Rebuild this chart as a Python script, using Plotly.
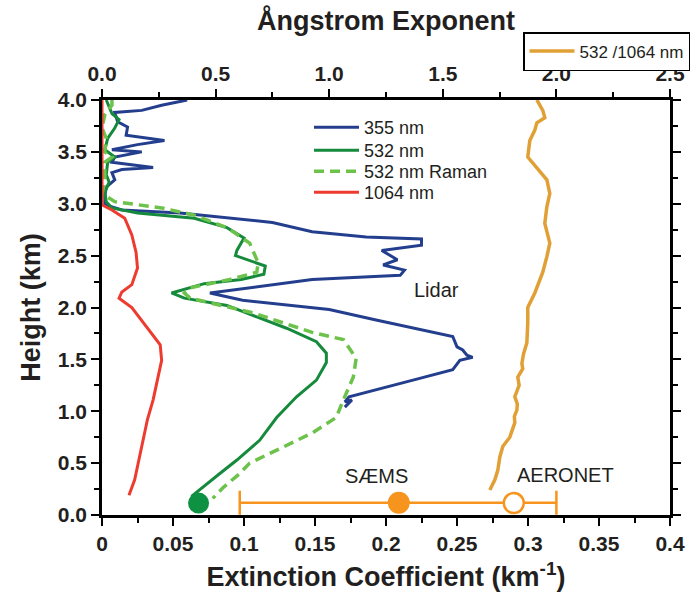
import plotly.graph_objects as go

# ---- 355 nm extinction (km^-1) vs height (km)
h_355 = [4.00, 3.95, 3.90, 3.88, 3.79, 3.74, 3.66, 3.61, 3.57, 3.54, 3.52, 3.50, 3.45, 3.40,
         3.35, 3.33, 3.30, 3.23, 3.16, 3.08, 2.99, 2.94, 2.91, 2.82, 2.73, 2.68, 2.66, 2.60,
         2.55, 2.46, 2.41, 2.36, 2.31, 2.27, 2.14, 2.07, 1.98, 1.88, 1.80, 1.72, 1.62, 1.59,
         1.54, 1.52, 1.49, 1.40, 1.30, 1.22, 1.14, 1.09, 1.11, 1.04]
ext_355 = [0.060, 0.042, 0.028, 0.009, 0.011, 0.018, 0.017, 0.044, 0.025, 0.014, 0.007, 0.028,
           0.009, 0.007, 0.036, 0.014, 0.007, 0.009, 0.003, 0.002, 0.002, 0.014, 0.055, 0.120,
           0.148, 0.186, 0.225, 0.225, 0.197, 0.208, 0.198, 0.213, 0.210, 0.148, 0.076, 0.099,
           0.160, 0.193, 0.219, 0.247, 0.250, 0.254, 0.257, 0.261, 0.252, 0.247, 0.219, 0.196,
           0.174, 0.171, 0.176, 0.171]

# ---- 532 nm
h_532 = [4.00, 3.87, 3.81, 3.73, 3.63, 3.52, 3.45, 3.40, 3.28, 3.21, 3.11, 3.02, 2.96, 2.91,
         2.86, 2.77, 2.67, 2.55, 2.50, 2.45, 2.40, 2.32, 2.27, 2.23, 2.14, 2.09, 2.02, 1.91,
         1.80, 1.67, 1.56, 1.47, 1.30, 1.14, 0.94, 0.72, 0.53, 0.40, 0.27, 0.18]
ext_532 = [0.003, 0.007, 0.012, 0.009, 0.004, 0.002, 0.009, 0.004, 0.003, 0.005, 0.002, 0.003,
           0.007, 0.025, 0.065, 0.088, 0.100, 0.095, 0.094, 0.105, 0.115, 0.114, 0.098, 0.072,
           0.049, 0.058, 0.088, 0.109, 0.130, 0.151, 0.158, 0.158, 0.151, 0.137, 0.123, 0.111,
           0.095, 0.083, 0.071, 0.063]

# ---- 532 nm Raman
h_raman = [4.00, 3.95, 3.86, 3.73, 3.63, 3.50, 3.45, 3.40, 3.21, 3.10, 3.02, 2.96, 2.89, 2.77,
           2.62, 2.43, 2.34, 2.27, 2.19, 2.14, 2.09, 2.04, 1.95, 1.76, 1.69, 1.51, 1.33, 1.11,
           0.94, 0.79, 0.65, 0.50, 0.40, 0.26, 0.16]
ext_raman = [0.007, 0.007, 0.002, 0.000, 0.003, 0.002, 0.007, 0.002, 0.002, 0.000, 0.009, 0.042,
             0.065, 0.088, 0.104, 0.110, 0.109, 0.090, 0.062, 0.058, 0.062, 0.078, 0.106, 0.148,
             0.170, 0.179, 0.177, 0.170, 0.165, 0.148, 0.127, 0.104, 0.097, 0.085, 0.078]

# ---- 1064 nm
h_1064 = [4.00, 2.99, 2.94, 2.86, 2.70, 2.53, 2.38, 2.22, 2.15, 2.09, 2.00, 1.78, 1.64, 1.49,
          1.30, 1.11, 0.92, 0.72, 0.53, 0.34, 0.19]
ext_1064 = [0.000, 0.000, 0.007, 0.016, 0.021, 0.024, 0.025, 0.021, 0.014, 0.012, 0.021, 0.033,
            0.041, 0.042, 0.039, 0.036, 0.032, 0.029, 0.026, 0.023, 0.019]

# ---- Angstrom exponent 532/1064 nm
h_ang = [4.00, 3.90, 3.83, 3.78, 3.71, 3.61, 3.45, 3.35, 3.23, 3.10, 2.97, 2.81, 2.62, 2.49,
         2.34, 2.14, 2.00, 1.85, 1.66, 1.55, 1.46, 1.41, 1.33, 1.25, 1.20, 1.14, 1.07, 1.01,
         0.95, 0.89, 0.75, 0.66, 0.56, 0.43, 0.34, 0.24]
ang = [1.914, 1.940, 1.949, 1.914, 1.905, 1.883, 1.874, 1.914, 1.958, 1.971, 1.958, 1.949,
       1.971, 1.958, 1.940, 1.905, 1.874, 1.874, 1.870, 1.855, 1.848, 1.852, 1.830, 1.836,
       1.826, 1.817, 1.828, 1.826, 1.815, 1.817, 1.795, 1.764, 1.751, 1.742, 1.729, 1.707]

# ---- surface points
green_pt_ext, green_pt_h = [0.068], [0.115]
saems_ext, saems_h = [0.209], [0.118]
saems_err_plus, saems_err_minus = [0.111], [0.112]
aeronet_ext, aeronet_h = [0.290], [0.115]

BLUE = '#243E8E'
GREEN = '#168A3C'
LGREEN = '#6CC24A'
RED = '#EE3B2F'
GOLD = '#E0A035'
ORANGE = '#F7941D'
TXT = '#231F20'
FONT = 'Liberation Sans'

fig = go.Figure()
fig.add_trace(go.Scatter(x=ext_355, y=h_355, mode='lines', name='355 nm', legend='legend',
                         line=dict(color=BLUE, width=3)))
fig.add_trace(go.Scatter(x=ext_532, y=h_532, mode='lines', name='532 nm', legend='legend3',
                         line=dict(color=GREEN, width=3)))
fig.add_trace(go.Scatter(x=ext_raman, y=h_raman, mode='lines', name='532 nm Raman',
                         legend='legend4',
                         line=dict(color=LGREEN, width=3.5, dash='10px,6px')))
fig.add_trace(go.Scatter(x=ext_1064, y=h_1064, mode='lines', name='1064 nm', legend='legend5',
                         line=dict(color=RED, width=3)))
fig.add_trace(go.Scatter(x=ang, y=h_ang, mode='lines', name='532 /1064 nm', xaxis='x2',
                         legend='legend2', line=dict(color=GOLD, width=3.5)))
fig.add_trace(go.Scatter(x=green_pt_ext, y=green_pt_h, mode='markers', showlegend=False,
                         marker=dict(size=21, color='#0E9142'), cliponaxis=False))
fig.add_trace(go.Scatter(x=saems_ext, y=saems_h, mode='markers', showlegend=False,
                         marker=dict(size=22, color=ORANGE), cliponaxis=False,
                         error_x=dict(type='data', array=saems_err_plus,
                                      arrayminus=saems_err_minus, color=ORANGE,
                                      thickness=2.5, width=12)))
fig.add_trace(go.Scatter(x=aeronet_ext, y=aeronet_h, mode='markers', showlegend=False,
                         marker=dict(size=20, color='white', line=dict(color=ORANGE, width=2.5)),
                         cliponaxis=False))

fig.add_annotation(x=0.218, y=2.17, text='Lidar', showarrow=False, xanchor='left',
                   font=dict(family=FONT, size=20, color=TXT))
fig.add_annotation(x=0.1695, y=0.376, text='SÆMS', showarrow=False, xanchor='left',
                   font=dict(family=FONT, size=20, color=TXT))
fig.add_annotation(x=0.2907, y=0.386, text='AERONET', showarrow=False, xanchor='left',
                   font=dict(family=FONT, size=20, color=TXT))

axis_common = dict(showline=True, linecolor='black', linewidth=2.5, ticks='outside',
                   ticklen=8, tickwidth=2, tickcolor='black', showgrid=False, zeroline=False,
                   tickfont=dict(family=FONT, size=21, color=TXT, weight='bold'))


def row_legend(center_px):
    return dict(x=(309 - 102) / 568, y=(515 - (center_px - 19)) / 415, xanchor='left',
                yanchor='top', bgcolor='rgba(0,0,0,0)', borderwidth=0, itemwidth=45,
                font=dict(family=FONT, size=18, color=TXT))


fig.update_layout(
    width=690, height=592,
    margin=dict(l=102, r=20, t=100, b=77, autoexpand=False),
    paper_bgcolor='white', plot_bgcolor='white',
    xaxis=dict(range=[0, 0.4], dtick=0.05, tick0=0,
               minor=dict(ticks='outside', ticklen=5, tickwidth=2, tickcolor='black', dtick=0.025),
               title=dict(text='Extinction Coefficient (km<sup>-1</sup>)', standoff=14,
                          font=dict(family=FONT, size=27, color=TXT, weight='bold')),
               **axis_common),
    xaxis2=dict(range=[0, 2.5], dtick=0.5, tick0=0, tickformat='.1f', overlaying='x',
                side='top', anchor='y',
                minor=dict(ticks='outside', ticklen=5, tickwidth=2, tickcolor='black', dtick=0.25),
                title=dict(text='Ångstrom Exponent', standoff=24,
                           font=dict(family=FONT, size=27, color=TXT, weight='bold')),
                **axis_common),
    yaxis=dict(range=[0, 4.0], dtick=0.5, tick0=0, tickformat='.1f', mirror='ticks',
               minor=dict(ticks='outside', ticklen=5, tickwidth=2, tickcolor='black', dtick=0.25),
               title=dict(text='Height (km)', standoff=10,
                          font=dict(family=FONT, size=27, color=TXT, weight='bold')),
               **axis_common),
    legend=row_legend(128),
    legend3=row_legend(151),
    legend4=row_legend(172),
    legend5=row_legend(193),
    legend2=dict(x=(523 - 102) / 568, y=(515 - 32) / 415, xanchor='left', yanchor='top',
                 bgcolor='white', bordercolor='black', borderwidth=1.5, itemwidth=45,
                 font=dict(family=FONT, size=17, color=TXT)),
    showlegend=True,
)

fig.write_html('out.html')
